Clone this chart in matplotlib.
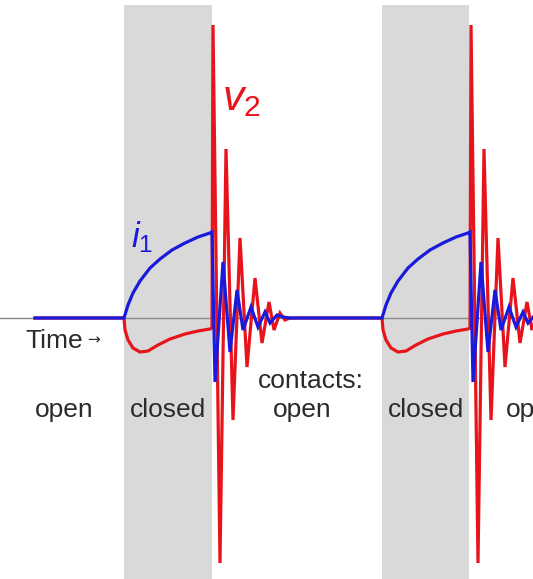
import numpy as np
import matplotlib.pyplot as plt

plt.rcParams["mathtext.fontset"] = "custom"
plt.rcParams["mathtext.it"] = "Liberation Sans:italic"
plt.rcParams["mathtext.rm"] = "Liberation Sans"

# time axis in screen-ish units, amplitude positive up (0 = baseline)
cycle_starts = [124, 382]
closed_len = [88, 87]
line_start, line_end = 35, 560

# current i1 while contacts closed (t relative to close)
i1_closed_t = [0, 4, 9, 16, 26, 36, 48, 61, 74, 86, 88]
i1_closed_y = [0, 13, 25, 37, 50, 59, 68, 75, 81, 85, 86]
# ringing after opening
i1_ring_t = [91, 99, 106, 113, 119, 127, 134, 141, 146, 153, 159, 166]
i1_ring_y = [-64, 56, -34, 28, -12, 11, -9, 6, -5, 3, 1, 0]

v2_closed_t = [0, 1, 4, 9, 16, 24, 34, 46, 61, 74, 86, 88]
v2_closed_y = [0, -12, -22, -30, -34, -33, -27, -21, -16, -13, -11, -10]
v2_ring_t = [89, 96, 102, 109, 116, 123, 131, 138, 145, 150, 156, 161, 166]
v2_ring_y = [293, -245, 169, -102, 80, -49, 40, -25, 16, -12, 5, -2, 0]

open_labels = ["open", "closed", "open", "closed", "open"]
open_label_x = [64, 168, 302, 426, 535]

RED = "#e8141b"
BLUE = "#1a1adc"


def build(ct, cy, rt, ry):
    xs, ys = [line_start], [0]
    for s in cycle_starts:
        xs += [s + t for t in ct + rt]
        ys += cy + ry
    xs.append(line_end)
    ys.append(0)
    return np.array(xs), np.array(ys)


i1_x, i1_y = build(i1_closed_t, i1_closed_y, i1_ring_t, i1_ring_y)
v2_x, v2_y = build(v2_closed_t, v2_closed_y, v2_ring_t, v2_ring_y)

fig = plt.figure(figsize=(5.33, 5.79), dpi=100)
ax = fig.add_axes([0, 0, 1, 1])
ax.set_xlim(0, 533)
ax.set_ylim(-261, 318)
ax.axis("off")

for s, w in zip(cycle_starts, closed_len):
    ax.axvspan(s, s + w, ymin=0, ymax=(313 + 261) / 579, color="#d9d9d9", lw=0, zorder=0)

ax.axhline(0, color="#8a8a8a", lw=1, zorder=1)
ax.plot(v2_x, v2_y, color=RED, lw=2.3, zorder=2, solid_joinstyle="miter")
ax.plot(i1_x, i1_y, color=BLUE, lw=2.3, zorder=3, solid_joinstyle="miter")

fam = ["Liberation Sans", "DejaVu Sans"]
txt = "#2b2b2b"
ax.text(25, -30, "Time", fontsize=19, family=fam, color=txt, va="baseline")
ax.text(87, -26, "→", fontsize=11, family=["DejaVu Sans"], color=txt, va="baseline")
for lab, x in zip(open_labels, open_label_x):
    ax.text(x, -99, lab, fontsize=19, family=fam, color=txt, ha="center", va="baseline")
ax.text(311, -70, "contacts:", fontsize=19, family=fam, color=txt, ha="center", va="baseline")

ax.text(222, 208, r"$v_{2}$", fontsize=31, color=RED, va="baseline")
ax.text(131, 71, r"$i_{1}$", fontsize=25, color=BLUE, va="baseline")

fig.savefig("out.png", dpi=100)
